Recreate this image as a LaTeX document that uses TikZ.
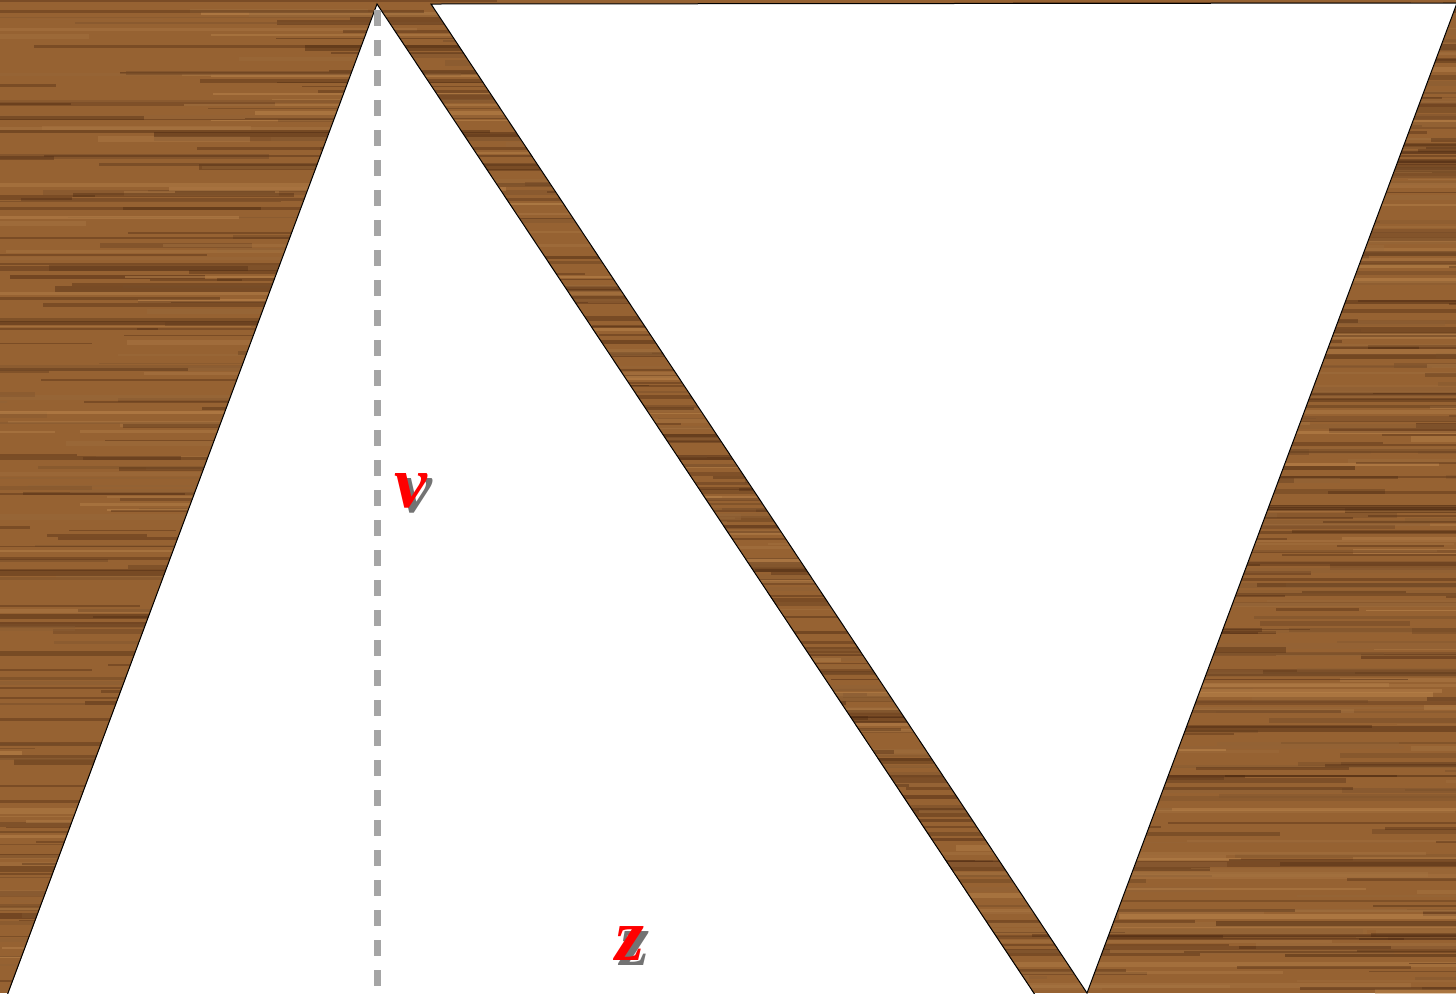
\documentclass[tikz,border=0pt]{standalone}
\usepackage{fontspec}
\usetikzlibrary{calc}
\setmainfont{Liberation Serif}
\begin{document}
\begin{tikzpicture}[x=0.5pt,y=-0.5pt,
  tri/.style={fill=white,draw=black,line width=0.5pt,line join=miter},
  heightline/.style={draw={rgb,255:red,165;green,165;blue,165},line width=3.5pt,dash pattern=on 8pt off 7pt},
  lbl/.style={font=\fontsize{37}{37}\selectfont\bfseries\itshape,text=red,inner sep=0pt},
  lblshadow/.style={font=\fontsize{37}{37}\selectfont\bfseries\itshape,text=black,inner sep=0pt,opacity=0.55}]
\definecolor{woodbase}{RGB}{150,98,50}
\definecolor{wooddark}{RGB}{70,36,14}
\definecolor{woodlight}{RGB}{200,145,85}
\useasboundingbox (0,0) rectangle (1456,993);
\begin{scope}
\clip (0,0) rectangle (1456,993);
\fill[woodbase] (0,0) rectangle (1456,993);
\pgfmathsetseed{11}
\foreach \i in {1,...,700}{
  \pgfmathsetmacro\yy{rnd*1000-4}
  \pgfmathsetmacro\xx{rnd*1700-250}
  \pgfmathsetmacro\ww{120+rnd*700}
  \pgfmathsetmacro\hh{1+rnd*5}
  \pgfmathtruncatemacro\cc{rnd*100}
  \fill[woodlight!\cc!wooddark,opacity=0.45] (\xx,\yy) rectangle ++(\ww,\hh);
}
\foreach \i in {1,...,250}{
  \pgfmathsetmacro\yy{rnd*1000-4}
  \pgfmathsetmacro\xx{rnd*1700-250}
  \pgfmathsetmacro\ww{80+rnd*500}
  \pgfmathsetmacro\hh{1+rnd*3}
  \fill[wooddark,opacity=0.35] (\xx,\yy) rectangle ++(\ww,\hh);
}
\end{scope}
\coordinate (A) at (377,4);
\coordinate (B) at (8,993);
\coordinate (C) at (1035,993);
\coordinate (D) at (431,4);
\coordinate (E) at (1457,3);
\coordinate (F) at (1087,993);
\fill[white] ($(B)+(-1,4)$) -- (A) -- ($(C)+(1,4)$) -- cycle;
\draw[line width=0.5pt] ($(B)+(-1.5,4)$) -- (A) -- ($(C)+(1.5,4)$);
\fill[tri] (D) -- (E) -- (F) -- cycle;
\coordinate (H1) at (377,10);
\coordinate (H2) at (377,986);
\draw[heightline] (H1) -- (H2);
\node[lblshadow] (vs) at (416,496) {v};
\node[lblshadow] (zs) at (635,948) {z};
\node[lbl] (v) at (411,491) {v};
\node[lbl] (z) at (630,943) {z};
\end{tikzpicture}
\end{document}
